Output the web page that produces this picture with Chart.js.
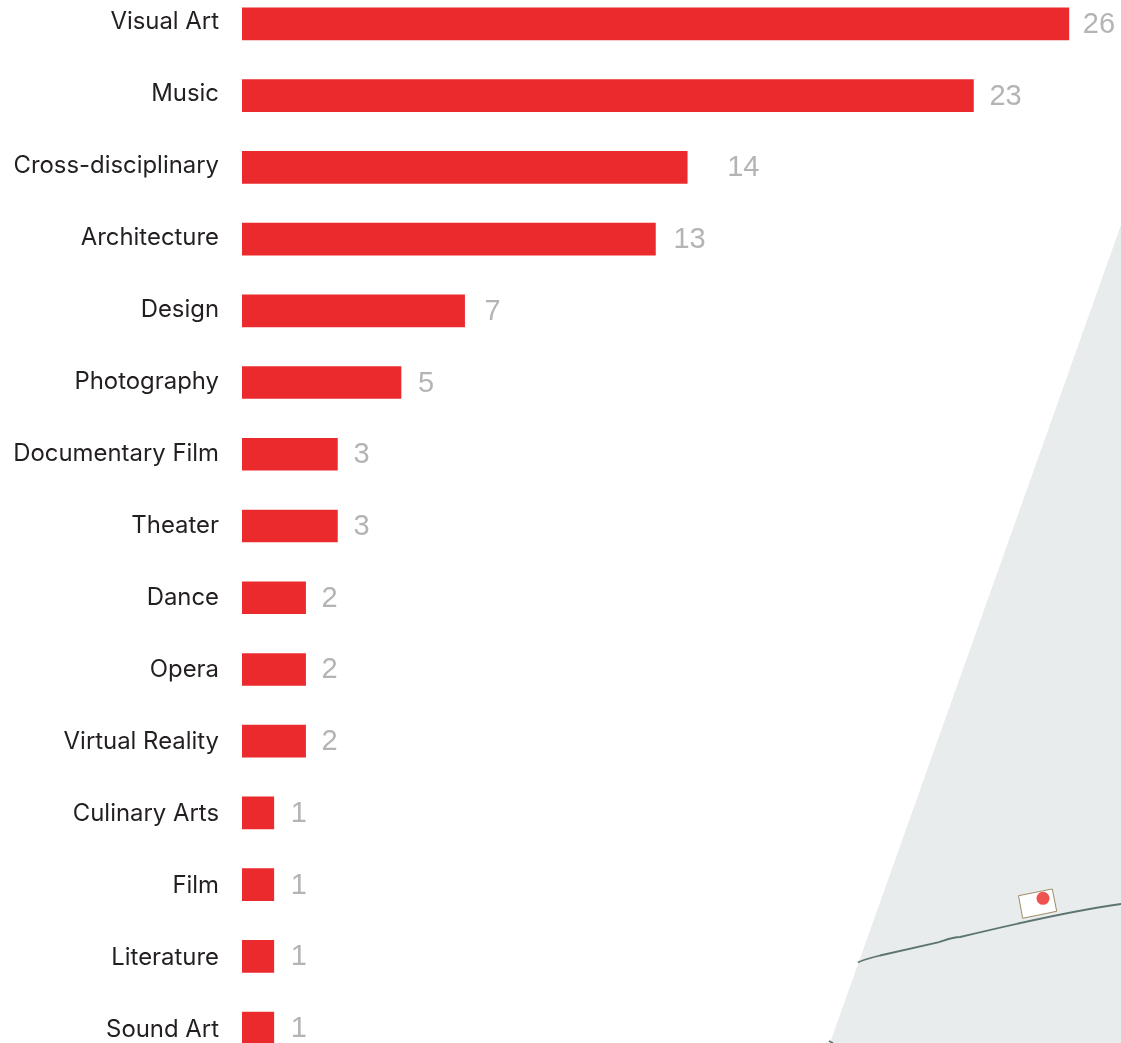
<!DOCTYPE html>
<html lang="en">
<head>
  <meta charset="UTF-8">
  <title>Disciplines</title>
  <script src="https://cdn.jsdelivr.net/npm/chart.js"></script>
  <style>
    html, body {
      margin: 0;
      padding: 0;
      width: 1121px;
      height: 1043px;
      overflow: hidden;
      background-color: #fff;
    }
    /* map fragment sits behind the chart */
    #mapa {
      position: absolute;
      left: 0;
      top: 0;
    }
    #wrap {
      position: absolute;
      left: 0;
      top: -12px;
      width: 1121px;
      height: 1076px;
    }
  </style>
</head>
<body>
  <svg id="mapa" width="1121" height="1043" viewBox="0 0 1121 1043">
    <polygon points="1121,225 1121,1043 830,1043" fill="#e8ecec"/>
    <path d="M858,962.5 C862,960 870,958 880,955.5 L938,942.5 C946,940 952,937 960,937 C1010,925 1070,911 1121,904"
          fill="none" stroke="#5d7571" stroke-width="1.8"/>
    <path d="M829,1041 L833,1043" fill="none" stroke="#5d7571" stroke-width="1.8"/>
    <polygon points="1018.5,895.7 1052.3,889 1056.7,911.3 1022.7,918.3" fill="#fff" stroke="#a08c6a" stroke-width="1"/>
    <circle cx="1043" cy="898.3" r="6.5" fill="#ef5350"/>
  </svg>

  <div id="wrap"><canvas id="grafico"></canvas></div>

  <script>
    const categorias = ['Visual Art', 'Music', 'Cross-disciplinary', 'Architecture', 'Design',
      'Photography', 'Documentary Film', 'Theater', 'Dance', 'Opera', 'Virtual Reality',
      'Culinary Arts', 'Film', 'Literature', 'Sound Art'];
    const valores = [26, 23, 14, 13, 7, 5, 3, 3, 2, 2, 2, 1, 1, 1, 1];
    // gap between bar end and its number, the 14 sits further out
    const separacion = [14, 16, 40, 18, 20, 17, 16, 16, 16, 16, 16, 17, 17, 17, 17];

    // numbers at the end of each bar
    const etiquetas = {
      id: 'etiquetas',
      afterDatasetsDraw(chart) {
        const ctx = chart.ctx;
        ctx.save();
        ctx.font = '29px "Liberation Sans", Arial, sans-serif';
        ctx.fillStyle = '#b4b4b4';
        ctx.textAlign = 'left';
        ctx.textBaseline = 'middle';
        chart.getDatasetMeta(0).data.forEach((barra, i) => {
          ctx.fillText(valores[i], barra.x + separacion[i], barra.y + 1);
        });
        ctx.restore();
      }
    };

    new Chart(document.getElementById('grafico'), {
      type: 'bar',
      data: {
        labels: categorias,
        datasets: [{
          data: valores,
          backgroundColor: '#eb2a2d',
          borderWidth: 0,
          barThickness: 32
        }]
      },
      options: {
        indexAxis: 'y',
        responsive: true,
        maintainAspectRatio: false,
        animation: false,
        layout: { padding: 0 },
        plugins: {
          legend: { display: false },
          tooltip: { enabled: false }
        },
        scales: {
          x: {
            display: false,
            min: 0,
            max: 27.64
          },
          y: {
            display: false
          },
          // names run on their own axis, their rows are a little wider than the bars
          nombres: {
            type: 'linear',
            axis: 'y',
            position: 'left',
            reverse: true,
            offset: false,
            bounds: 'data',
            min: -0.4722,
            max: 14.4722,
            afterBuildTicks(scale) {
              scale.ticks = categorias.map((c, i) => ({ value: i }));
            },
            afterFit(scale) {
              scale.width = 242;
              scale.paddingTop = 0;
              scale.paddingBottom = 0;
            },
            grid: { display: false, drawTicks: false },
            border: { display: false },
            ticks: {
              color: '#231f20',
              padding: 23,
              autoSkip: false,
              callback: value => categorias[value],
              font: { family: 'Inter, Roboto, sans-serif', size: 23.9 }
            }
          }
        }
      },
      plugins: [etiquetas]
    });
  </script>
</body>
</html>
